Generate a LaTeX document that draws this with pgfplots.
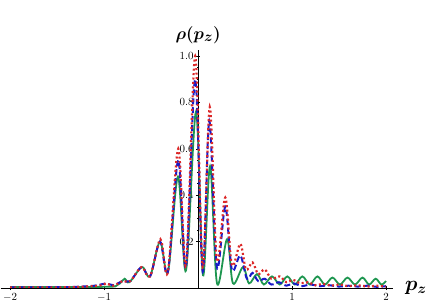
\documentclass[border=0pt]{standalone}
\usepackage{pgfplots}
\pgfplotsset{compat=1.18}
\usepackage{bm}
\definecolor{cred}{RGB}{220,40,40}
\definecolor{cblue}{RGB}{25,25,200}
\definecolor{cgreen}{RGB}{30,150,80}
\begin{document}
\begin{tikzpicture}
\path[use as bounding box] (0,0) rectangle (439bp,306bp);
\begin{axis}[
  at={(0.6bp,18bp)}, anchor=south west,
  scale only axis, width=392bp, height=238bp,
  axis lines=middle,
  xmin=-2.1, xmax=2.07, ymin=0, ymax=1.026,
  xtick={-2,-1,1,2}, minor x tick num=4,
  ytick={0.2,0.4,0.6,0.8,1.0}, minor y tick num=3,
  yticklabel style={/pgf/number format/fixed,/pgf/number format/fixed zerofill,/pgf/number format/precision=1, font=\fontsize{11}{11}\selectfont, xshift=1pt},
  xticklabel style={font=\fontsize{11}{11}\selectfont},
  major tick length=4bp, minor tick length=2bp,
  tick style={black, line width=0.5pt},
  axis line style={black, line width=0.5pt, -},
  xlabel={$\bm{p_z}$},
  xlabel style={at={(axis description cs:1,0)}, anchor=west, xshift=9bp, font=\fontsize{20}{20}\selectfont},
  ylabel={$\bm{\rho(p_z)}$},
  ylabel style={at={(axis description cs:0.504,1)}, anchor=south, rotate=0, yshift=3bp, font=\fontsize{19}{19}\selectfont},
  clip=true,
]
\addplot[cgreen, line width=1.8pt, smooth, tension=0.55] coordinates {
(-2.0,0.004) (-1.5,0.004) (-1.0,0.005) (-0.88,0.007) (-0.83,0.02) (-0.78,0.04) (-0.73,0.025) (-0.596,0.09) (-0.511,0.05) (-0.404,0.20) (-0.319,0.07) (-0.213,0.48) (-0.128,0.075) (-0.021,0.76) (0.053,0.055) (0.128,0.525) (0.202,0.02) (0.309,0.21) (0.372,0.02) (0.479,0.09) (0.543,0.02) (0.628,0.06) (0.70,0.015) (0.787,0.05) (0.87,0.015) (0.95,0.05) (1.03,0.015) (1.11,0.05) (1.19,0.015) (1.27,0.05) (1.35,0.015) (1.43,0.045) (1.51,0.015) (1.59,0.045) (1.67,0.015) (1.75,0.045) (1.82,0.015) (1.89,0.04) (1.95,0.015) (2.0,0.03)
};
\addplot[cblue, line width=2pt, dash pattern=on 6pt off 3pt, smooth, tension=0.55] coordinates {
(-2,0.003) (-1.4,0.004) (-1.1,0.01) (-0.98,0.02) (-0.9,0.012) (-0.8,0.03) (-0.72,0.03) (-0.6,0.09) (-0.51,0.05) (-0.404,0.20) (-0.32,0.07) (-0.21,0.55) (-0.128,0.09) (-0.03,0.90) (0.05,0.07) (0.12,0.72) (0.2,0.09) (0.29,0.35) (0.36,0.08) (0.45,0.14) (0.52,0.04) (0.58,0.065) (0.64,0.03) (0.71,0.04) (0.78,0.015) (0.86,0.025) (0.94,0.01) (1.02,0.02) (1.1,0.008) (1.2,0.015) (1.3,0.008) (1.4,0.012) (1.5,0.006) (1.6,0.01) (1.7,0.006) (1.8,0.01) (1.9,0.005) (2.0,0.008)
};
\addplot[cred, line width=2.2pt, dash pattern=on 2pt off 2.5pt, smooth, tension=0.55] coordinates {
(-2,0.002) (-1.4,0.003) (-1.05,0.01) (-0.98,0.02) (-0.9,0.01) (-0.8,0.03) (-0.72,0.03) (-0.6,0.09) (-0.51,0.05) (-0.40,0.21) (-0.32,0.07) (-0.21,0.60) (-0.128,0.10) (-0.03,1.00) (0.05,0.09) (0.125,0.78) (0.2,0.12) (0.29,0.39) (0.36,0.10) (0.45,0.19) (0.51,0.08) (0.58,0.11) (0.64,0.06) (0.71,0.08) (0.78,0.04) (0.87,0.05) (0.94,0.025) (1.01,0.035) (1.09,0.02) (1.17,0.025) (1.25,0.012) (1.33,0.018) (1.42,0.01) (1.5,0.015) (1.6,0.008) (1.7,0.012) (1.8,0.006) (1.9,0.01) (2.0,0.006)
};
\end{axis}
\end{tikzpicture}
\end{document}
